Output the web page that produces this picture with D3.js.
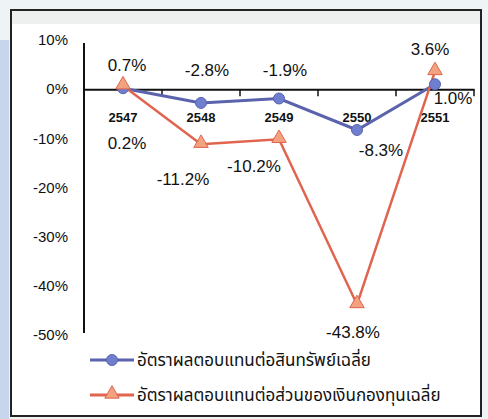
<!DOCTYPE html>
<html><head><meta charset="utf-8">
<script src="https://cdn.jsdelivr.net/npm/d3@7"></script>
<style>
html,body{margin:0;padding:0;background:#fff;}
svg{display:block;}
text{font-family:"Liberation Sans",Arial,sans-serif;fill:#111;}
</style></head>
<body>
<svg id="chart" width="488" height="419"></svg>
<script>
const years = ["2547","2548","2549","2550","2551"];
const roa = [0.2, -2.8, -1.9, -8.3, 1.0];
const roe = [0.7, -11.2, -10.2, -43.8, 3.6];
const yTicks = [10, 0, -10, -20, -30, -40, -50];
const seriesNames = ["อัตราผลตอบแทนต่อสินทรัพย์เฉลี่ย", "อัตราผลตอบแทนต่อส่วนของเงินกองทุนเฉลี่ย"];
const roaLabels = ["0.2%", "-2.8%", "-1.9%", "-8.3%", "1.0%"];
const roeLabels = ["0.7%", "-11.2%", "-10.2%", "-43.8%", "3.6%"];

const svg = d3.select("#chart");
const blue = "#5b63ad", red = "#e0644e", triFill = "#f2a27e";

// background / frame
svg.append("rect").attr("x",0).attr("y",0).attr("width",488).attr("height",419).attr("fill","#eef3f6");
svg.append("rect").attr("x",0).attr("y",40).attr("width",9).attr("height",379).attr("fill","#c7d6ec");
svg.append("rect").attr("x",11).attr("y",10).attr("width",470).attr("height",406).attr("fill","#fff").attr("stroke","#222").attr("stroke-width",2);
svg.append("rect").attr("x",12).attr("y",11).attr("width",468).attr("height",13).attr("fill","#eef0f0");

const x = d3.scaleBand().domain(years).range([84, 474]);
const y = d3.scaleLinear().domain([-50, 10]).range([335, 40]);

// y axis line
svg.append("line").attr("x1",84).attr("x2",84).attr("y1",43).attr("y2",333).attr("stroke","#111").attr("stroke-width",2);
// y labels
svg.append("g").selectAll("text").data(yTicks).join("text")
  .attr("x",68).attr("y",d=>y(d)).attr("dy","0.35em").attr("text-anchor","end")
  .style("font-size","15px").text(d=>d+"%");

// x axis at zero
const xAxis = d3.axisBottom(x).tickSize(0).tickFormat("");
const gx = svg.append("g").attr("transform",`translate(0,${y(0)})`).call(xAxis);
gx.select(".domain").attr("stroke","#111").attr("stroke-width",2);
svg.append("g").selectAll("line").data(years).join("line")
  .attr("x1",d=>x(d)+x.bandwidth()).attr("x2",d=>x(d)+x.bandwidth())
  .attr("y1",y(0)).attr("y2",y(0)+7).attr("stroke","#111").attr("stroke-width",1.5);
svg.append("g").selectAll("text").data(years).join("text")
  .attr("x",d=>x(d)+x.bandwidth()/2).attr("y",y(0)+28).attr("dy","0.35em").attr("text-anchor","middle")
  .style("font-size","13px").style("font-weight","bold").attr("fill","#333").text(d=>d);

const cx = d=>x(d)+x.bandwidth()/2;
const line = d3.line().x((d,i)=>cx(years[i])).y(d=>y(d));

svg.append("path").datum(roa).attr("d",line).attr("fill","none").attr("stroke",blue).attr("stroke-width",3);
svg.append("path").datum(roe).attr("d",line).attr("fill","none").attr("stroke",red).attr("stroke-width",2.5);

const tri = d3.symbol().type(d3.symbolTriangle).size(90);
svg.append("g").selectAll("circle").data(roa).join("circle")
  .attr("cx",(d,i)=>cx(years[i])).attr("cy",d=>y(d)).attr("r",5.5).attr("fill","#6f7fd0").attr("stroke",blue);
svg.append("g").selectAll("path").data(roe).join("path")
  .attr("d",tri).attr("transform",(d,i)=>`translate(${cx(years[i])},${y(d)-1})`).attr("fill",triFill).attr("stroke",red).attr("stroke-width",1);

// data labels (offsets relative to points)
const roaOff = [[4,55],[6,-33],[6,-28],[24,20],[18,14]];
const roeOff = [[4,-21],[-18,35],[-25,27],[-4,28],[-5,-22]];
svg.append("g").selectAll("text").data(roa).join("text")
  .attr("x",(d,i)=>cx(years[i])+roaOff[i][0]).attr("y",(d,i)=>y(d)+roaOff[i][1]).attr("dy","0.35em")
  .attr("text-anchor","middle").style("font-size","17px").text((d,i)=>roaLabels[i]);
svg.append("g").selectAll("text").data(roe).join("text")
  .attr("x",(d,i)=>cx(years[i])+roeOff[i][0]).attr("y",(d,i)=>y(d)+roeOff[i][1]).attr("dy","0.35em")
  .attr("text-anchor","middle").style("font-size","17px").text((d,i)=>roeLabels[i]);

// legend
const lg = svg.append("g");
[0,1].forEach(i=>{
  const ly = 360 + i*35;
  lg.append("line").attr("x1",90).attr("x2",134).attr("y1",ly).attr("y2",ly).attr("stroke",i?red:blue).attr("stroke-width",3);
  if(i===0) lg.append("circle").attr("cx",112).attr("cy",ly).attr("r",5.5).attr("fill","#6f7fd0").attr("stroke",blue);
  else lg.append("path").attr("d",tri).attr("transform",`translate(112,${ly-1})`).attr("fill",triFill).attr("stroke",red);
  lg.append("text").attr("x",137).attr("y",ly).attr("dy","0.35em").style("font-size","17px")
    .style("font-family","'Noto Sans Thai','Loma','Garuda','DejaVu Sans',sans-serif").text(seriesNames[i]);
});
</script>
</body></html>
